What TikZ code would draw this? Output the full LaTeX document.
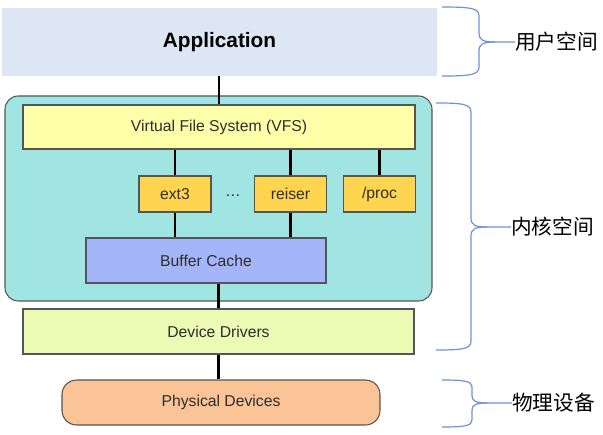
\documentclass[tikz,border=0pt]{standalone}
\usepackage{fontspec}
\setmainfont{Liberation Sans}
\newfontfamily\cjk{Noto Sans CJK SC}
\usetikzlibrary{positioning}

\definecolor{appblue}{RGB}{220,231,243}
\definecolor{kerncyan}{RGB}{161,229,227}
\definecolor{vfsyellow}{RGB}{255,255,170}
\definecolor{fsgold}{RGB}{255,213,80}
\definecolor{bufblue}{RGB}{164,181,250}
\definecolor{drvgreen}{RGB}{236,250,180}
\definecolor{physpeach}{RGB}{251,196,151}
\definecolor{bracecol}{RGB}{110,146,215}
\definecolor{edgegray}{RGB}{85,85,85}
\definecolor{textgray}{RGB}{45,45,45}

\begin{document}
\begin{tikzpicture}[
	x=0.75pt, y=-0.75pt,
	every node/.style = {rectangle, inner sep=0pt, text=textgray, font=\fontsize{11.8}{14}\selectfont},
	layer/.style = {draw=edgegray, line width=0.8pt},
	app/.style = {fill=appblue, text=black, minimum width=326.25pt, minimum height=51pt, font=\bfseries\fontsize{15.6}{18}\selectfont},
	kern/.style = {layer, fill=kerncyan, rounded corners=10pt, minimum width=320.25pt, minimum height=153.75pt},
	vfs/.style = {layer, fill=vfsyellow, minimum width=294pt, minimum height=33pt},
	fs/.style = {layer, fill=fsgold, minimum width=54pt, minimum height=27pt},
	buf/.style = {layer, fill=bufblue, minimum width=180pt, minimum height=33.75pt},
	drv/.style = {layer, fill=drvgreen, minimum width=293.25pt, minimum height=33.75pt},
	phys/.style = {layer, fill=physpeach, rounded corners=11pt, minimum width=238.5pt, minimum height=33.75pt},
	link/.style = {draw=black, line width=1.6pt},
	brace/.style = {draw=bracecol, line width=0.9pt},
	space/.style = {anchor=west, text=black, font=\cjk\fontsize{15.5}{17}\selectfont}
	]
	\useasboundingbox (0,0) rectangle (603,435);

	% layers
	\node[app] (app) at (219.5,42) {Application};
	\node[kern] (kernel) at (218.5,198.5) {};
	\node[vfs] (vfs) at (219,127) {Virtual File System (VFS)};
	\node[fs] (ext3) at (175,194) {ext3};
	\node[fs] (reiser) at (290.5,194) {reiser};
	\node[fs] (proc) at (379.5,194) {/proc};
	\node (dots) at (233,196) {\dots};
	\node[buf] (buffer) at (206,260.5) {Buffer Cache};
	\node[drv] (drivers) at (218.5,331.5) {Device Drivers};
	\node[phys] (devices) at (221,402.5) {Physical Devices};

	% links
	\draw[link] (app.south -| vfs) -- (vfs);
	\draw[link] (vfs.south -| ext3) -- (ext3);
	\draw[link] (vfs.south -| reiser) -- (reiser);
	\draw[link] (vfs.south -| proc) -- (proc);
	\draw[link] (ext3) -- (ext3 |- buffer.north);
	\draw[link] (reiser) -- (reiser |- buffer.north);
	\draw[link] (buffer.south -| drivers) -- (drivers);
	\draw[link] (drivers) -- (drivers |- devices.north);

	% space labels
	\node[space] (user) at (515,42) {用户空间};
	\node[space] (kspace) at (511,227) {内核空间};
	\node[space] (hw) at (512,403) {物理设备};

	% braces
	\draw[brace] (442,7) .. controls (470,7) and (479,8) .. (479,16) -- (479,33)
		.. controls (479,40) and (483,42) .. (495,42) -- (user.west);
	\draw[brace] (442,76) .. controls (470,76) and (479,75) .. (479,67) -- (479,51)
		.. controls (479,44) and (483,42) .. (495,42);

	\draw[brace] (436,103) .. controls (462,103) and (471,104) .. (471,112) -- (471,218)
		.. controls (471,225) and (475,227) .. (487,227) -- (kspace.west);
	\draw[brace] (436,350) .. controls (462,350) and (471,349) .. (471,341) -- (471,236)
		.. controls (471,229) and (475,227) .. (487,227);

	\draw[brace] (442,380) .. controls (464,380) and (472,381) .. (472,387) -- (472,396)
		.. controls (472,401) and (476,403) .. (487,403) -- (hw.west);
	\draw[brace] (442,427) .. controls (464,427) and (472,426) .. (472,420) -- (472,410)
		.. controls (472,405) and (476,403) .. (487,403);
\end{tikzpicture}
\end{document}
